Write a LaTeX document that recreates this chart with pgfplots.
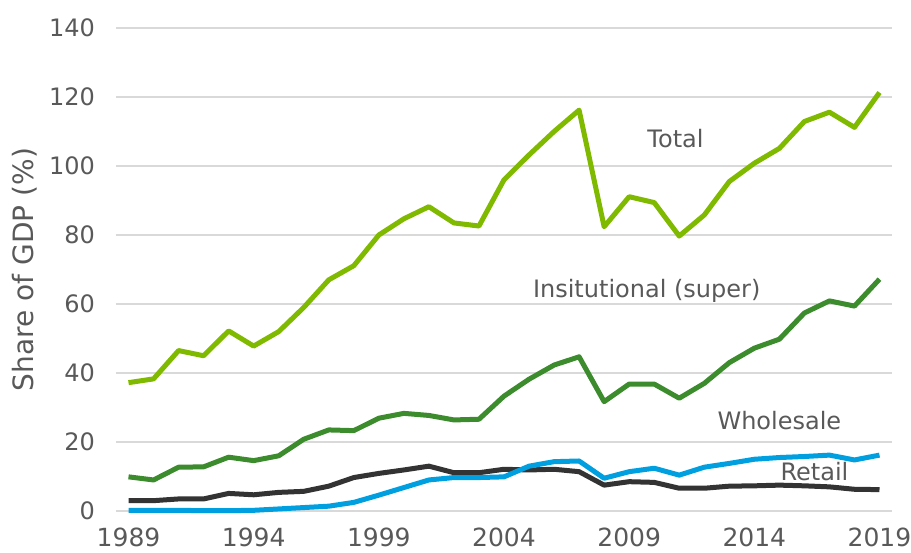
\documentclass[border=0pt]{standalone}
\usepackage{pgfplots}
\pgfplotsset{compat=1.18}
\usepackage{fontspec}
\setmainfont{DejaVu Sans}
\usetikzlibrary{calc}
\definecolor{totalc}{HTML}{7FBA00}
\definecolor{instc}{HTML}{3C8C2E}
\definecolor{bluec}{HTML}{00A0E0}
\definecolor{darkc}{HTML}{333333}
\definecolor{txt}{HTML}{595959}
\definecolor{gridc}{HTML}{D9D9D9}
\pgfplotstableread{
year total inst whole retail
1989 37.2 9.9 0.2 3.0
1990 38.3 9.0 0.2 3.0
1991 46.5 12.7 0.2 3.5
1992 45.0 12.8 0.1 3.5
1993 52.2 15.6 0.1 5.1
1994 47.8 14.6 0.2 4.7
1995 52.0 16.0 0.6 5.4
1996 59.0 20.8 1.0 5.7
1997 67.0 23.5 1.4 7.2
1998 71.1 23.3 2.5 9.7
1999 80.0 26.9 4.6 10.9
2000 84.7 28.3 6.8 11.9
2001 88.2 27.7 9.0 13.0
2002 83.5 26.4 9.7 11.1
2003 82.6 26.6 9.7 11.1
2004 96.0 33.3 9.9 12.1
2005 103.2 38.2 13.0 11.9
2006 110.0 42.3 14.3 12.1
2007 116.2 44.7 14.5 11.4
2008 82.4 31.7 9.5 7.5
2009 91.1 36.8 11.4 8.5
2010 89.4 36.8 12.4 8.3
2011 79.7 32.7 10.4 6.6
2012 85.8 37.0 12.7 6.6
2013 95.5 43.0 13.8 7.2
2014 100.8 47.2 15.0 7.3
2015 105.1 49.8 15.5 7.5
2016 112.9 57.4 15.8 7.3
2017 115.6 60.9 16.2 7.0
2018 111.2 59.4 14.8 6.3
2019 121.3 67.2 16.2 6.2
}\data
\begin{document}
\begin{tikzpicture}[font=\fontsize{12}{14}\selectfont]
\begin{axis}[
  scale only axis,
  width=388pt, height=241.5pt,
  xmin=1988.5, xmax=2019.5,
  ymin=0, ymax=140,
  xtick={1989,1994,1999,2004,2009,2014,2019},
  ytick={0,20,...,140},
  xticklabel style={/pgf/number format/1000 sep={}, font=\fontsize{12.5}{14}\selectfont, yshift=-5pt},
  yticklabel style={xshift=-7pt},
  /pgf/number format/assume math mode=true,
  ymajorgrids,
  grid style={gridc, line width=0.75pt},
  axis line style={draw=none},
  major tick length=0pt,
  tick label style={text=txt},
  ylabel={Share of GDP (\%)},
  ylabel style={text=txt, font=\fontsize{14}{16}\selectfont, at={(axis description cs:-0.1173,0.5)}, anchor=center, rotate=0},
  every axis plot/.append style={line width=2.5pt, line join=round, mark=none},
  clip=false,
]
\addplot[totalc] table[x=year,y=total]{\data};
\addplot[instc] table[x=year,y=inst]{\data};
\addplot[darkc] table[x=year,y=retail]{\data};
\addplot[bluec] table[x=year,y=whole]{\data};
\node[text=txt] at (axis cs:2010.85,108.1) {Total};
\node[text=txt] at (axis cs:2009.7,63.8) {Insitutional (super)};
\node[text=txt] at (axis cs:2015.0,26.2) {Wholesale};
\node[text=txt] at (axis cs:2016.4,11.4) {Retail};
\end{axis}
\pgfresetboundingbox
\path ($(current axis.south west)+(-58pt,-20.5pt)$) rectangle ($(current axis.north east)+(9.5pt,14pt)$);
\end{tikzpicture}
\end{document}
